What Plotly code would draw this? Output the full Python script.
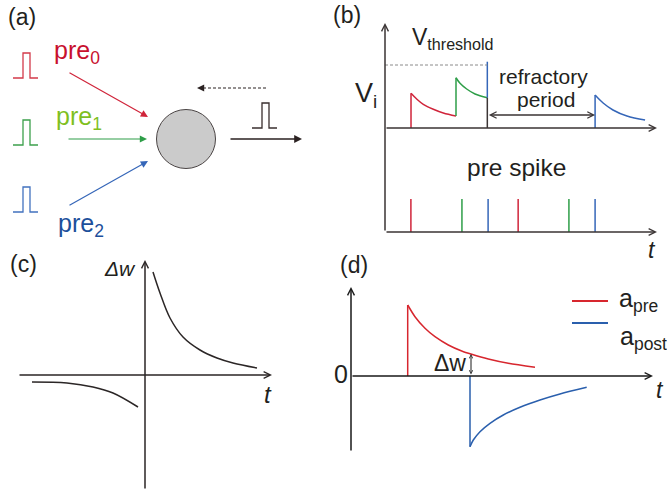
import plotly.graph_objects as go

W, H = 667, 495
FONT = "Liberation Sans"
INK = "#231f20"
AXC = "#3b3535"

# ---------------- data ----------------
# (a) spike waveform template (time offset, relative amplitude)
pulse_t = [0, 10, 10, 17, 17, 25]
pulse_a = [0, 0, 1, 1, 0, 0]
input_names = ["pre<sub>0</sub>", "pre<sub>1</sub>", "pre<sub>2</sub>"]

# (b) membrane potential V_i (V normalised to threshold = 1)
red_t = [1.004, 1.224, 1.479, 1.865, 2.251, 2.741]
red_v = [0.551, 0.460, 0.376, 0.297, 0.238, 0.190]
green_t = [2.741, 2.896, 3.154, 3.475, 3.950]
green_v = [0.798, 0.710, 0.619, 0.540, 0.481]
fire_t = 3.95
fire_v = 1.052
v_threshold = 1.0
post_t = [8.11, 8.42, 8.80, 9.34, 10.04]
post_v = [0.524, 0.397, 0.286, 0.190, 0.127]
# (b) pre spike raster
spike_t = [1.0, 2.97, 3.98, 5.14, 7.10, 8.11]
spike_src = [0, 1, 2, 0, 1, 2]

# (c) STDP window
stdp_pos_t = [0.16, 0.30, 0.50, 0.76, 1.10, 1.44, 1.76, 2.24]
stdp_pos_w = [2.06, 1.64, 1.14, 0.76, 0.50, 0.34, 0.24, 0.14]
stdp_neg_t = [-2.26, -1.56, -1.04, -0.64, -0.14]
stdp_neg_w = [-0.14, -0.16, -0.24, -0.36, -0.64]

# (d) traces
apre_t = [1.134, 1.28, 1.48, 1.68, 1.946, 2.214, 2.414, 2.746, 3.146, 3.68]
apre_v = [1.42, 1.186, 0.954, 0.786, 0.62, 0.50, 0.434, 0.34, 0.254, 0.174]
apost_t = [2.38, 2.446, 2.58, 2.78, 3.046, 3.38, 3.78, 4.18, 4.714]
apost_v = [-1.414, -1.28, -1.114, -0.946, -0.78, -0.626, -0.48, -0.36, -0.226]
dw_t = 2.40
dw_v = 0.44

# ---------------- styles ----------------
src_line = ["#d0243a", "#2e9e48", "#3566b8"]
src_pulse = ["#d33a4a", "#3ca04c", "#4272bf"]
src_text = ["#c8102e", "#7fbf1f", "#1d4f9b"]
RED_D = "#d7262e"
BLUE_D = "#2a5fad"


def X(p):
    return p / W


def Y(p):
    return 1 - p / H


fig = go.Figure()

# ---- panel (a) ----
bases = [78, 145, 212]
for i, b in enumerate(bases):
    fig.add_trace(go.Scatter(x=[13 + t for t in pulse_t], y=[b - 25 * a for a in pulse_a],
                             mode="lines", line=dict(color=src_pulse[i], width=1.3),
                             xaxis="x5", yaxis="y5", hoverinfo="skip"))
fig.add_trace(go.Scatter(x=[252 + t for t in pulse_t], y=[128 - 25 * a for a in pulse_a],
                         mode="lines", line=dict(color="#3a2f2f", width=1.3),
                         xaxis="x5", yaxis="y5", hoverinfo="skip"))

# ---- panel (b) membrane ----
def seg(x, y, color, shape="linear", ax="y"):
    fig.add_trace(go.Scatter(x=x, y=y, mode="lines", line=dict(color=color, width=1.5, shape=shape),
                             xaxis="x", yaxis=ax, hoverinfo="skip"))

seg([red_t[0], red_t[0]], [0, red_v[0]], src_line[0])
seg(red_t, red_v, src_line[0], "spline")
seg([green_t[0], green_t[0]], [red_v[-1], green_v[0]], src_line[1])
seg(green_t, green_v, src_line[1], "spline")
seg([fire_t, fire_t], [green_v[-1], fire_v], src_line[2])
seg([fire_t, fire_t], [0, green_v[-1]], AXC)
seg([post_t[0], post_t[0]], [0, post_v[0]], src_line[2])
seg(post_t, post_v, src_line[2], "spline")

# ---- panel (b) raster ----
for t, s in zip(spike_t, spike_src):
    seg([t, t], [0, 1], src_line[s], ax="y2")

# ---- panel (c) ----
fig.add_trace(go.Scatter(x=stdp_pos_t, y=stdp_pos_w, mode="lines",
                         line=dict(color="#2b2626", width=1.5, shape="spline"),
                         xaxis="x3", yaxis="y3", hoverinfo="skip"))
fig.add_trace(go.Scatter(x=stdp_neg_t, y=stdp_neg_w, mode="lines",
                         line=dict(color="#2b2626", width=1.5, shape="spline"),
                         xaxis="x3", yaxis="y3", hoverinfo="skip"))

# ---- panel (d) ----
fig.add_trace(go.Scatter(x=[apre_t[0], apre_t[0]], y=[0, apre_v[0]], mode="lines",
                         line=dict(color=RED_D, width=1.5), xaxis="x4", yaxis="y4", hoverinfo="skip"))
fig.add_trace(go.Scatter(x=apre_t, y=apre_v, mode="lines",
                         line=dict(color=RED_D, width=1.5, shape="spline", smoothing=0.8),
                         xaxis="x4", yaxis="y4", hoverinfo="skip"))
fig.add_trace(go.Scatter(x=[apost_t[0], apost_t[0]], y=[0, apost_v[0]], mode="lines",
                         line=dict(color=BLUE_D, width=1.5), xaxis="x4", yaxis="y4", hoverinfo="skip"))
fig.add_trace(go.Scatter(x=apost_t, y=apost_v, mode="lines",
                         line=dict(color=BLUE_D, width=1.5, shape="spline", smoothing=0.8),
                         xaxis="x4", yaxis="y4", hoverinfo="skip"))

# ---------------- decorations ----------------
ann = []
shapes = []


def arrow(tip, tail, color=AXC, width=1.5, head=5, size=0.9, side="end"):
    ann.append(dict(x=X(tip[0]), y=Y(tip[1]), xref="paper", yref="paper",
                    ax=tail[0] - tip[0], ay=tail[1] - tip[1], axref="pixel", ayref="pixel",
                    text="", showarrow=True, arrowhead=head, arrowsize=size,
                    arrowwidth=width, arrowcolor=color, arrowside=side, startarrowhead=head,
                    startarrowsize=size))


def label(text, x, y, size, color=INK, anchor="center"):
    ann.append(dict(x=X(x), y=Y(y), xref="paper", yref="paper", text=text, showarrow=False,
                    xanchor=anchor, yanchor="middle",
                    font=dict(family=FONT, size=size, color=color)))

# panel (a)
shapes.append(dict(type="circle", xref="x5", yref="y5", x0=156.5, x1=215.5, y0=109.5, y1=168.5,
                   fillcolor="#cbcbcb", line=dict(color="#4a4444", width=1)))
arrow((148, 117), (68, 72), src_line[0], 1.2, 2, 1.2)
arrow((147, 139), (67, 139), src_line[1], 1.2, 2, 1.2)
arrow((148, 161), (68, 206), src_line[2], 1.2, 2, 1.2)
arrow((302, 139), (229, 139), "#2b2222", 1.3, 2, 1.2)
shapes.append(dict(type="line", xref="paper", yref="paper", x0=X(266), x1=X(202), y0=Y(88), y1=Y(88),
                   line=dict(color="#2b2222", width=1.2, dash="3px,2px")))
arrow((197, 88), (203, 88), "#2b2222", 1.2, 2, 1.2)
label(input_names[0], 52, 51.5, 25, src_text[0], "left")
label(input_names[1], 54, 118, 25, src_text[1], "left")
label(input_names[2], 55.5, 225, 25, src_text[2], "left")

# panel (b)
arrow((385, 23), (385, 232))
arrow((657, 128), (385, 128))
arrow((657, 232), (385, 232))
shapes.append(dict(type="line", xref="x", yref="y", x0=0, x1=fire_t, y0=v_threshold, y1=v_threshold,
                   line=dict(color="#8a8a8a", width=1, dash="3px,2px")))
ann.append(dict(x=post_t[0], y=0.206, xref="x", yref="y", ax=fire_t, ay=0.206, axref="x", ayref="y",
                text="", showarrow=True, arrowhead=5, arrowsize=0.9, arrowwidth=1.4,
                startarrowhead=5, startarrowsize=0.9, arrowside="end+start", arrowcolor=AXC))
label("V<sub>threshold</sub>", 410, 38.5, 23, INK, "left")
label("V<sub>i</sub>", 353, 94.5, 27, INK, "left")
label("refractory", 543, 76.5, 21)
label("period", 546, 99.5, 21)
label("pre spike", 516, 168, 24.5)
label("<i>t</i>", 652, 250, 23)

# panel (c)
arrow((272, 375), (18, 375), "#2b2626")
arrow((145, 260), (145, 490), "#2b2626")
label("<i>Δw</i>", 120, 268, 21)
label("<i>t</i>", 268, 394, 24)

# panel (d)
arrow((653, 376), (351, 376), "#1a1a1a")
arrow((351, 287), (351, 452), "#1a1a1a")
ann.append(dict(x=dw_t, y=dw_v, xref="x4", yref="y4", ax=dw_t, ay=0,
                axref="x4", ayref="y4", text="", showarrow=True, arrowhead=5, arrowsize=0.7,
                arrowwidth=1, startarrowhead=5, startarrowsize=0.7, arrowside="end+start",
                arrowcolor="#1a1a1a"))
label("Δw", 449.5, 363, 23)
label("0", 341, 374, 25)
label("<i>t</i>", 660, 390, 23)
shapes.append(dict(type="line", xref="paper", yref="paper", x0=X(572), x1=X(608), y0=Y(301), y1=Y(301),
                   line=dict(color=RED_D, width=2)))
shapes.append(dict(type="line", xref="paper", yref="paper", x0=X(572), x1=X(608), y0=Y(323), y1=Y(323),
                   line=dict(color=BLUE_D, width=2)))
label("a<sub>pre</sub>", 617, 300, 25, INK, "left")
label("a<sub>post</sub>", 618, 338, 25, INK, "left")

# panel letters
label("(a)", 22, 17, 23)
label("(b)", 347, 15, 23)
label("(c)", 23, 264, 23)
label("(d)", 354, 265, 23)

hid = dict(visible=False, fixedrange=True)
fig.update_layout(
    width=W, height=H, margin=dict(l=0, r=0, t=0, b=0),
    paper_bgcolor="white", plot_bgcolor="rgba(0,0,0,0)", showlegend=False,
    xaxis=dict(domain=[X(385), X(657)], range=[0, 10.5], **hid),
    yaxis=dict(domain=[Y(128), Y(23)], range=[0, 105 / 63], anchor="x", **hid),
    yaxis2=dict(domain=[Y(232), Y(150)], range=[0, 82 / 33], anchor="x", **hid),
    xaxis3=dict(domain=[X(18), X(272)], range=[-2.54, 2.54], anchor="y3", **hid),
    yaxis3=dict(domain=[Y(490), Y(260)], range=[-2.3, 2.3], anchor="x3", **hid),
    xaxis4=dict(domain=[X(351), X(653)], range=[0, 6.04], anchor="y4", **hid),
    yaxis4=dict(domain=[Y(452), Y(287)], range=[-1.52, 1.78], anchor="x4", **hid),
    xaxis5=dict(domain=[0, X(335)], range=[0, 335], anchor="y5", **hid),
    yaxis5=dict(domain=[Y(240), 1], range=[240, 0], anchor="x5", **hid),
    annotations=ann, shapes=shapes,
)

fig.write_html("out.html")
